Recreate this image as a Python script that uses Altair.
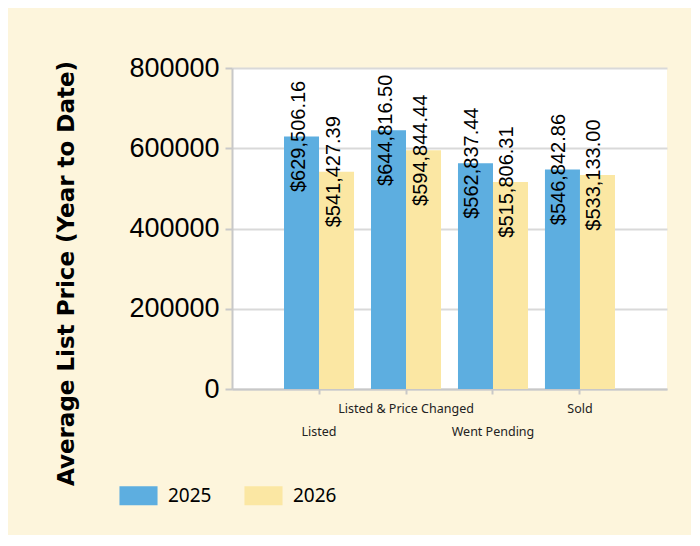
import altair as alt
import pandas as pd

categories = ["Listed", "Listed & Price Changed", "Went Pending", "Sold"]
years = ["2025", "2026"]
v2025 = [629506.16, 644816.50, 562837.44, 546842.86]
v2026 = [541427.39, 594844.44, 515806.31, 533133.00]
y_ticks = [0, 200000, 400000, 600000, 800000]
colors = ["#5DAEE0", "#FBE7A3"]

rows = []
for c, a, b in zip(categories, v2025, v2026):
    rows.append({"cat": c, "year": "2025", "value": a})
    rows.append({"cat": c, "year": "2026", "value": b})
df = pd.DataFrame(rows)

x_enc = alt.X(
    "cat:N",
    sort=categories,
    title=None,
    scale=alt.Scale(paddingInner=0.195, paddingOuter=0.598),
    axis=alt.Axis(
        labelAngle=0,
        labelFont="Noto Sans",
        labelFontSize=12.5,
        labelColor="#222222",
        labelPadding={"condition": {"test": "datum.value == 'Listed' || datum.value == 'Went Pending'", "value": 31}, "value": 8},
        labelBaseline="top",
        tickColor="#c8c8c8",
        tickSize=5,
        tickWidth=2,
        domainColor="#c8c8c8",
        domainWidth=2,
        bandPosition=0.5,
        grid=False,
    ),
)

y_enc = alt.Y(
    "value:Q",
    scale=alt.Scale(domain=[0, 800000], nice=False),
    axis=alt.Axis(
        values=y_ticks,
        format="d",
        labelFont="Liberation Sans",
        labelFontSize=27,
        labelColor="#000000",
        labelPadding=6,
        tickColor="#c8c8c8",
        tickSize=7,
        tickWidth=2,
        domainColor="#c8c8c8",
        domainWidth=2,
        gridColor="#d9d9d9",
        gridWidth=2,
        title="Average List Price (Year to Date)",
        titleFont="DejaVu Sans",
        titleFontWeight="bold",
        titleFontSize=23,
        titleColor="#000000",
        titleAngle=270,
        titleX=-166,
        titleY=205,
        titleAlign="center",
        titleBaseline="middle",
    ),
)

color_enc = alt.Color(
    "year:N",
    scale=alt.Scale(domain=years, range=colors),
    legend=alt.Legend(
        title=None,
        orient="none",
        direction="horizontal",
        legendX=-113,
        legendY=408,
        symbolType="M-1,-0.5L1,-0.5L1,0.5L-1,0.5Z",
        symbolSize=1450,
        symbolStrokeWidth=0,
        symbolOpacity=1,
        labelFont="Noto Sans",
        labelFontSize=19,
        labelColor="#000000",
        columnPadding=32,
        labelOffset=10,
    ),
)

bars = alt.Chart(df).mark_bar(opacity=1).encode(
    x=x_enc,
    xOffset=alt.XOffset("year:N", sort=years, scale=alt.Scale(paddingInner=0, paddingOuter=0)),
    y=y_enc,
    color=color_enc,
)

labels = alt.Chart(df).mark_text(
    angle=270,
    align="center",
    baseline="middle",
    font="Liberation Sans",
    fontSize=20,
    color="#000000",
    dy=-3,
).encode(
    x=alt.X("cat:N", sort=categories),
    xOffset=alt.XOffset("year:N", sort=years),
    y=alt.Y("value:Q"),
    text=alt.Text("value:Q", format="$,.2f"),
)

chart = alt.layer(bars, labels).properties(
    width=435,
    height=321,
    background="#FDF5DC",
    autosize=alt.AutoSizeParams(type="none"),
    padding={"left": 224, "top": 60, "right": 24, "bottom": 146},
).configure_view(fill="white", stroke=None)

chart.save("out.html", embed_options={"renderer": "svg", "actions": False})
